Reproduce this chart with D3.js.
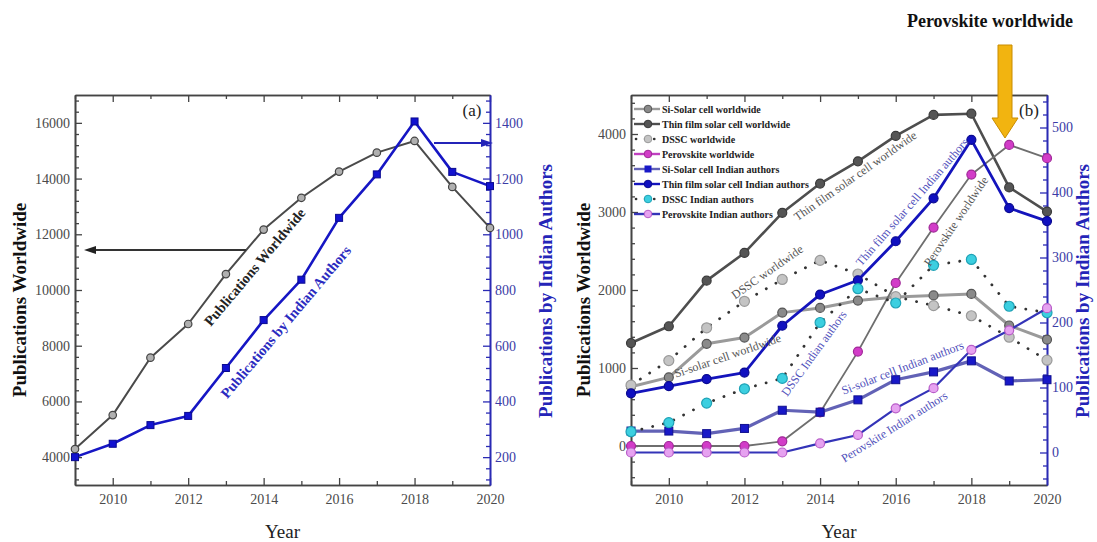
<!DOCTYPE html>
<html>
<head>
<meta charset="utf-8">
<script src="https://cdn.jsdelivr.net/npm/d3@7"></script>
<style>
  body { margin: 0; background: #fff; }
  text { font-family: "Liberation Serif", "DejaVu Serif", serif; }
</style>
</head>
<body>
<div id="vis"></div>
<script>
// ---- data ----
const years = [2009, 2010, 2011, 2012, 2013, 2014, 2015, 2016, 2017, 2018, 2019, 2020];
const yearTicks = [2010, 2012, 2014, 2016, 2018, 2020];
const yearMinor = [2009, 2011, 2013, 2015, 2017, 2019];

// panel (a)
const worldTotal = [4290, 5510, 7570, 8780, 10570, 12170, 13310, 14250, 14930, 15350, 13700, 12230];
const indiaTotal = [200, 248, 315, 348, 520, 692, 837, 1059, 1215, 1405, 1224, 1173];
const leftTicksA = [4000, 6000, 8000, 10000, 12000, 14000, 16000];
const rightTicksA = [200, 400, 600, 800, 1000, 1200, 1400];

// panel (b)
const siWorld    = [760, 880, 1310, 1390, 1710, 1770, 1865, 1910, 1930, 1950, 1545, 1365];
const thinWorld  = [1320, 1535, 2120, 2475, 2990, 3365, 3650, 3975, 4245, 4260, 3315, 3005];
const dsscWorld  = [780, 1095, 1515, 1855, 2135, 2380, 2205, 1915, 1800, 1670, 1395, 1100];
const perovWorld = [0, 0, 0, 0, 60, 430, 1210, 2090, 2800, 3480, 3860, 3690];
const siIndia    = [33, 33, 29, 37, 65, 62, 81, 112, 124, 141, 110, 112];
const thinIndia  = [91, 102, 113, 123, 195, 243, 265, 325, 391, 481, 376, 356];
const dsscIndia  = [32, 46, 76, 98, 114, 200, 252, 230, 288, 297, 225, 215];
const perovIndia = [0, 0, 0, 0, 0, 14, 27, 68, 99, 158, 188, 222];
const leftTicksB = [0, 1000, 2000, 3000, 4000];
const rightTicksB = [0, 100, 200, 300, 400, 500];

// ---- layout ----
const W = 1097, H = 542;
const SERIF = "'Liberation Serif', 'DejaVu Serif', serif";
const svg = d3.select("#vis").append("svg").attr("width", W).attr("height", H)
  .style("font-family", SERIF);
svg.append("rect").attr("width", W).attr("height", H).attr("fill", "#fff");

const BLUE_AX = "#2a2ab4";

function frame(o) {
  const g = svg.append("g");
  const x = d3.scaleLinear().domain([2009, 2020]).range([o.left, o.right]);
  const yl = d3.scaleLinear().domain(o.yl).range([o.bottom, o.top]);
  const yr = d3.scaleLinear().domain(o.yr).range([o.bottom, o.top]);

  const style = (sel, col) => {
    sel.attr("font-size", null).attr("font-family", null);
    sel.selectAll("path.domain").attr("stroke", col).attr("stroke-width", 1.6);
    sel.selectAll("line").attr("stroke", col).attr("stroke-width", 1.3);
    sel.selectAll("text").style("font-size", "14px").style("font-family", SERIF)
      .attr("fill", col === BLUE_AX ? "#3b3ba6" : "#4a4a4a");
  };
  const put = (axis, tx, ty, col) => g.append("g").attr("transform", `translate(${tx},${ty})`).call(axis).call(s => style(s, col));
  const fmt = d3.format("d");

  put(d3.axisBottom(x).tickValues(yearTicks).tickFormat(fmt).tickSize(-7).tickSizeOuter(0).tickPadding(9), 0, o.bottom, "#444");
  put(d3.axisBottom(x).tickValues(yearMinor).tickFormat("").tickSize(-4).tickSizeOuter(0), 0, o.bottom, "#444");
  put(d3.axisTop(x).tickValues(yearTicks).tickFormat("").tickSize(-7).tickSizeOuter(0), 0, o.top, "#444");
  put(d3.axisTop(x).tickValues(yearMinor).tickFormat("").tickSize(-4).tickSizeOuter(0), 0, o.top, "#444");
  put(d3.axisLeft(yl).tickValues(o.lt).tickFormat(fmt).tickSize(-7).tickSizeOuter(0).tickPadding(5), o.left, 0, "#444");
  put(d3.axisLeft(yl).tickValues(o.lm).tickFormat("").tickSize(-4).tickSizeOuter(0), o.left, 0, "#444");
  put(d3.axisRight(yr).tickValues(o.rt).tickFormat(fmt).tickSize(-7).tickSizeOuter(0).tickPadding(5), o.right, 0, BLUE_AX);
  put(d3.axisRight(yr).tickValues(o.rm).tickFormat("").tickSize(-4).tickSizeOuter(0), o.right, 0, BLUE_AX);

  // titles
  g.append("text").attr("x", (o.left + o.right) / 2).attr("y", 538)
    .attr("text-anchor", "middle").attr("font-size", 19).attr("fill", "#222").text("Year");
  g.append("text").attr("transform", `translate(${o.ltx + 6},${(o.top + o.bottom) / 2 + 10}) rotate(-90)`)
    .attr("text-anchor", "middle").attr("font-size", 19).attr("font-weight", "bold").attr("fill", "#111")
    .text("Publications Worldwide");
  g.append("text").attr("transform", `translate(${o.rtx + 7},${(o.top + o.bottom) / 2 + 1}) rotate(-90)`)
    .attr("text-anchor", "middle").attr("font-size", 19).attr("font-weight", "bold").attr("fill", "#2424b8")
    .text("Publications by Indian Authors");
  g.append("text").attr("x", o.right - 18).attr("y", o.top + 21).attr("text-anchor", "middle")
    .attr("font-size", 17).attr("fill", "#222").text(o.tag);
  return { g, x, yl, yr };
}

function drawSeries(p, s) {
  const y = s.axis === "r" ? p.yr : p.yl;
  const pts = years.map((yr, i) => [p.x(yr), y(s.values[i])]);
  const path = p.g.append("path").attr("d", d3.line()(pts)).attr("fill", "none")
    .attr("stroke", s.line).attr("stroke-width", s.width).attr("stroke-linejoin", "round");
  if (s.dotted) path.attr("stroke-dasharray", "0.1,11").attr("stroke-linecap", "round");
  const m = p.g.append("g");
  if (s.shape === "square") {
    m.selectAll("rect").data(pts).join("rect")
      .attr("x", d => d[0] - s.size / 2).attr("y", d => d[1] - s.size / 2)
      .attr("width", s.size).attr("height", s.size).attr("fill", s.fill).attr("stroke", s.stroke).attr("stroke-width", 1);
  } else {
    m.selectAll("circle").data(pts).join("circle")
      .attr("cx", d => d[0]).attr("cy", d => d[1]).attr("r", s.size / 2)
      .attr("fill", s.fill).attr("stroke", s.stroke).attr("stroke-width", 1.2);
  }
}

function label(g, txt, x, y, ang, col, size, weight) {
  g.append("text").attr("transform", `translate(${x},${y}) rotate(${ang})`)
    .attr("text-anchor", "middle").attr("dominant-baseline", "middle")
    .attr("font-size", size).attr("font-weight", weight || "normal").attr("fill", col).text(txt);
}

// ---- panel (a) ----
const pa = frame({
  left: 75, right: 490, top: 95, bottom: 485,
  yl: [3000, 17000], yr: [100, 1500],
  lt: leftTicksA, rt: rightTicksA,
  lm: d3.range(3200, 17000, 400).filter(v => v % 2000 !== 0),
  rm: d3.range(120, 1500, 40).filter(v => v % 200 !== 0),
  ltx: 20, rtx: 545,
  tag: "(a)"
});
drawSeries(pa, { values: worldTotal, axis: "l", line: "#4a4a4a", width: 2, shape: "circle", size: 7.5, fill: "#b0b0b0", stroke: "#444" });
drawSeries(pa, { values: indiaTotal, axis: "r", line: "#1616c4", width: 2.6, shape: "square", size: 7, fill: "#1212d0", stroke: "#0a0a90" });

// pointer arrows
pa.g.append("line").attr("x1", 246).attr("y1", 250).attr("x2", 92).attr("y2", 250).attr("stroke", "#333").attr("stroke-width", 1.8);
pa.g.append("path").attr("d", "M84,250 L96,246 L96,254 Z").attr("fill", "#222");
pa.g.append("line").attr("x1", 434).attr("y1", 143).attr("x2", 484).attr("y2", 143).attr("stroke", "#2424b8").attr("stroke-width", 1.8);
pa.g.append("path").attr("d", "M493,143 L481,139 L481,147 Z").attr("fill", "#2424b8");

label(pa.g, "Publications Worldwide", 256, 268, -50, "#222", 14.5, "bold");
label(pa.g, "Publications by Indian Authors", 287, 323, -50, "#2b2bc0", 14.5, "bold");

// ---- panel (b) ----
const pb = frame({
  left: 631, right: 1047, top: 95, bottom: 485,
  yl: [-500, 4500], yr: [-50, 550],
  lt: leftTicksB, rt: rightTicksB,
  lm: d3.range(-400, 4500, 200).filter(v => v % 1000 !== 0),
  rm: d3.range(-40, 550, 20).filter(v => v % 100 !== 0),
  ltx: 584, rtx: 1082,
  tag: "(b)"
});

const seriesB = [
  { name: "Si-Solar cell worldwide", values: siWorld, axis: "l", line: "#9a9a9a", width: 3, shape: "circle", size: 9, fill: "#8a8a8a", stroke: "#555" },
  { name: "Thin film solar cell worldwide", values: thinWorld, axis: "l", line: "#4e4e4e", width: 2.6, shape: "circle", size: 9, fill: "#555", stroke: "#3a3a3a" },
  { name: "DSSC worldwide", values: dsscWorld, axis: "l", line: "#333", width: 2.8, dotted: true, shape: "circle", size: 10, fill: "#c4c4c4", stroke: "#9a9a9a" },
  { name: "Perovskite worldwide", values: perovWorld, axis: "l", line: "#6e6e6e", width: 1.8, legendLine: "#c040c0", shape: "circle", size: 9, fill: "#d23cc8", stroke: "#a02898" },
  { name: "Si-Solar cell Indian authors", values: siIndia, axis: "r", line: "#6262b6", width: 3.2, shape: "square", size: 8, fill: "#1818c8", stroke: "#101090" },
  { name: "Thin film solar cell Indian authors", values: thinIndia, axis: "r", line: "#1414bc", width: 2.8, shape: "circle", size: 9, fill: "#1010c0", stroke: "#0a0a90" },
  { name: "DSSC Indian authors", values: dsscIndia, axis: "r", line: "#333", width: 2.8, dotted: true, shape: "circle", size: 10, fill: "#3ccfe0", stroke: "#1fa2b6" },
  { name: "Perovskite Indian authors", values: perovIndia, axis: "r", line: "#3434b8", width: 2.2, shape: "circle", size: 9, fill: "#e6a2f0", stroke: "#b85cc8" }
];
seriesB.forEach(s => drawSeries(pb, s));

// in-plot labels
label(pb.g, "Thin film solar cell worldwide", 856, 177, -35, "#555", 12);
label(pb.g, "DSSC worldwide", 768, 273, -35, "#555", 12);
label(pb.g, "Si-solar cell worldwide", 728, 357, -19, "#555", 12);
label(pb.g, "Thin film solar cell Indian authors", 913, 203, -49, "#5050bb", 12);
label(pb.g, "Perovskite worldwide", 957, 222, -56, "#555", 12);
label(pb.g, "DSSC Indian authors", 815, 354, -54, "#5050bb", 12);
label(pb.g, "Si-solar cell Indian authors", 903, 369, -21, "#5050bb", 12);
label(pb.g, "Perovskite Indian authors", 895, 428, -32, "#5050bb", 12);

// legend
const lg = pb.g.append("g");
seriesB.forEach((s, i) => {
  const yy = 109 + i * 15;
  const ln = lg.append("line").attr("x1", 634).attr("x2", 660).attr("y1", yy).attr("y2", yy)
    .attr("stroke", s.legendLine || s.line).attr("stroke-width", s.dotted ? 2.6 : 2.4);
  if (s.dotted) ln.attr("stroke-dasharray", "0.1,9").attr("stroke-linecap", "round").attr("x1", 636);
  if (s.shape === "square") {
    lg.append("rect").attr("x", 648 - 3.5).attr("y", yy - 3.5).attr("width", 7).attr("height", 7).attr("fill", s.fill);
  } else {
    lg.append("circle").attr("cx", 648).attr("cy", yy).attr("r", 3.8).attr("fill", s.fill).attr("stroke", s.stroke);
  }
  lg.append("text").attr("x", 662).attr("y", yy + 3.5).attr("font-size", 10).attr("font-weight", "bold")
    .attr("fill", "#222").text(s.name);
});

// highlight arrow
svg.append("text").attr("x", 990).attr("y", 27).attr("text-anchor", "middle")
  .attr("font-size", 18).attr("font-weight", "bold").attr("fill", "#111").text("Perovskite worldwide");
svg.append("path")
  .attr("d", "M998,45 L1012,45 L1012,118 L1018,118 L1005,138 L992,118 L998,118 Z")
  .attr("fill", "#f2b410").attr("stroke", "#c98c00").attr("stroke-width", 1);
</script>
</body>
</html>
